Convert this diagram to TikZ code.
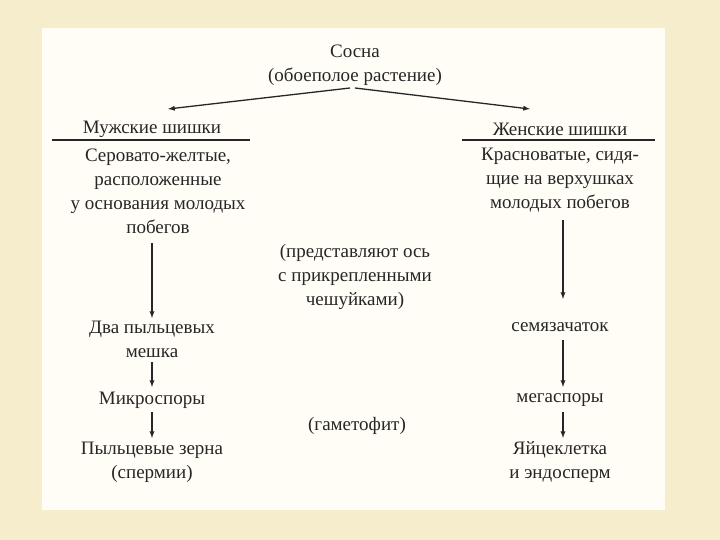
\documentclass[tikz,border=0pt]{standalone}
\usepackage{fontspec}
\setmainfont{Liberation Serif}
\begin{document}
\begin{tikzpicture}[x=1pt,y=-1pt,
  txt/.style={font=\fontsize{19}{24}\selectfont,align=center,inner sep=1pt,text=black!85},
  arr/.style={-latex,line width=1.3pt,black!85},
  rule/.style={line width=1.2pt,black!85}]
\definecolor{bg}{HTML}{F6EDCD}
\definecolor{panel}{HTML}{FFFDF6}
\useasboundingbox (0,0) rectangle (720,540);
\fill[bg] (0,0) rectangle (720,540);
\fill[panel] (42,28) rectangle (665,510);
\node[txt] (sosna) at (355,65) {Сосна\\(обоеполое растение)};
\coordinate (L) at (168,109);
\coordinate (R) at (530,109);
\draw[arr] (350,88) -- (L);
\draw[arr] (355,88) -- (R);
\node[txt] (male) at (152,129) {Мужские шишки};
\node[txt] (female) at (560,129) {Женские шишки};
\draw[rule] (52,140) -- (250,140);
\draw[rule] (462,140) -- (655,140);
\node[txt,anchor=north] (mdesc) at (158,148) {Серовато-желтые,\\расположенные\\у основания молодых\\побегов};
\node[txt,anchor=north] (fdesc) at (560,147) {Красноватые, сидя-\\щие на верхушках\\молодых побегов};
\node[txt] (mid) at (355,277) {(представляют ось\\с прикрепленными\\чешуйками)};
\node[txt] (pm) at (152,339) {Два пыльцевых\\мешка};
\node[txt] (micro) at (152,400) {Микроспоры};
\node[txt] (pz) at (152,462) {Пыльцевые зерна\\(спермии)};
\node[txt] (sem) at (560,327) {семязачаток};
\node[txt] (mega) at (560,400) {мегаспоры};
\node[txt] (egg) at (560,462) {Яйцеклетка\\и эндосперм};
\node[txt] (gam) at (357,426) {(гаметофит)};
\draw[arr] (152,243) -- (152,318);
\draw[arr] (152,362) -- (152,387);
\draw[arr] (152,412) -- (152,438);
\draw[arr] (563,220) -- (563,299);
\draw[arr] (563,340) -- (563,387);
\draw[arr] (563,412) -- (563,438);
\end{tikzpicture}
\end{document}
